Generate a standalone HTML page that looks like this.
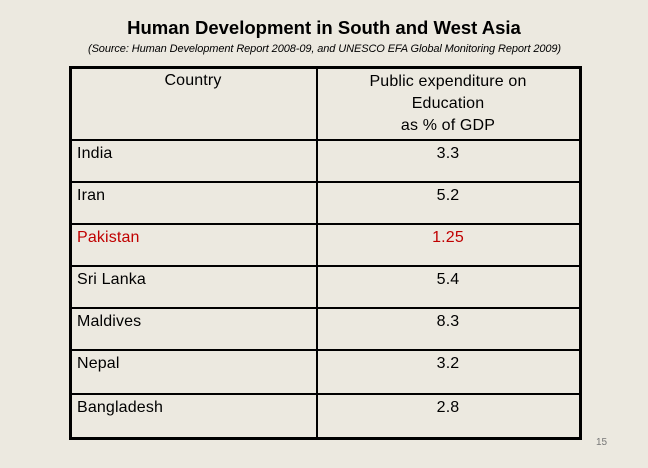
<!DOCTYPE html>
<html><head><meta charset="utf-8"><style>
body{margin:0;width:648px;height:468px;background:#ece9e0;position:relative;overflow:hidden;font-family:"Liberation Sans",Arial,sans-serif;color:#000}
.a{position:absolute;white-space:nowrap}
.h{position:absolute;left:70px;width:509px;height:2px;background:#000}
.c{position:absolute;font-size:16px;letter-spacing:0.15px}
</style></head><body>
<div class="a" style="left:0;width:648px;top:17px;text-align:center;font-size:18.5px;font-weight:bold">Human Development in South and West Asia</div>
<div class="a" style="left:88px;top:43px;font-size:11px;font-style:italic;letter-spacing:-0.1px">(Source: Human Development Report 2008-09, and UNESCO EFA Global Monitoring Report 2009)</div>
<div style="position:absolute;left:69px;top:66px;width:507px;height:368px;border:3px solid #000"></div>
<div style="position:absolute;left:316px;top:67px;width:2px;height:370px;background:#000"></div>
<div class="a c" style="left:70px;width:246px;top:72px;text-align:center">Country</div>
<div class="a c" style="left:318px;width:260px;top:71px;text-align:center;line-height:22px;white-space:normal">Public expenditure on<br>Education<br>as % of GDP</div>
<div id="rows"></div>
<div class="a" style="left:596px;top:437px;font-size:10px;color:#777">15</div>
<script>
const countries=["India","Iran","Pakistan","Sri Lanka","Maldives","Nepal","Bangladesh"];
const values=["3.3","5.2","1.25","5.4","8.3","3.2","2.8"];
const lines=[139,181,223,265,307,349,393];
const rows=document.getElementById('rows');
countries.forEach((c,i)=>{
  const y=lines[i];
  const l=document.createElement('div');l.className='h';l.style.top=y+'px';
  
  
  rows.appendChild(l);
  const red=c==="Pakistan"?'#c00000':'#000';
  const n=document.createElement('div');n.className='a c';n.textContent=c;
  n.style.left='77px';n.style.top=(y+6)+'px';n.style.color=red;
  
  
  rows.appendChild(n);
  const v=document.createElement('div');v.className='a c';v.textContent=values[i];
  v.style.left='318px';v.style.width='260px';v.style.textAlign='center';v.style.top=(y+6)+'px';v.style.color=red;
  
  
  rows.appendChild(v);
});
</script>
</body></html>
